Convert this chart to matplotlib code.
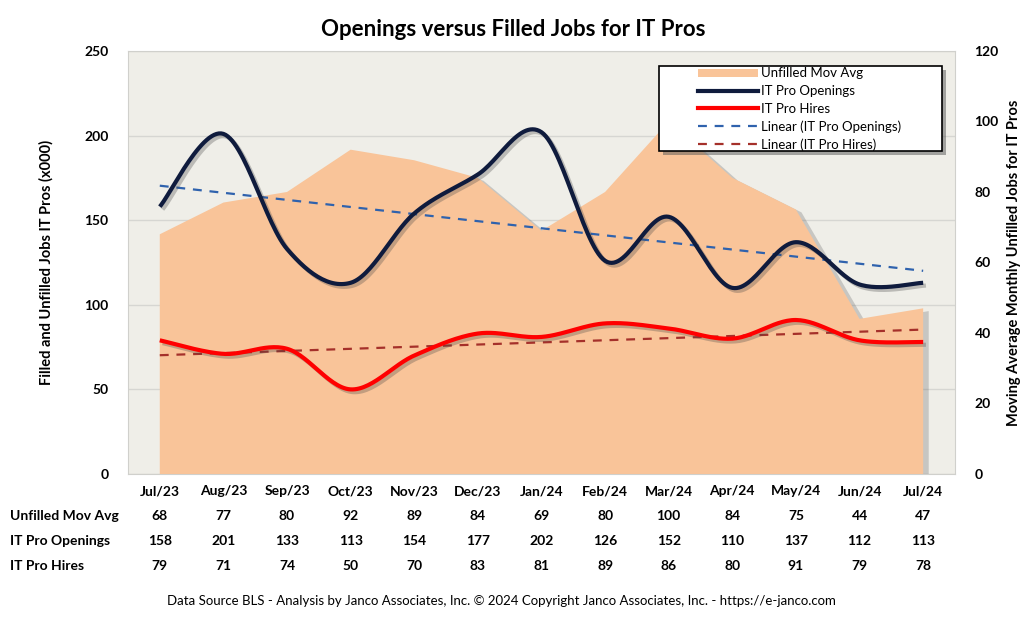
import matplotlib
matplotlib.use("Agg")
import matplotlib.pyplot as plt
import matplotlib.patheffects as pe
import matplotlib.transforms as mtransforms
from matplotlib.patches import Patch, Rectangle
from matplotlib.lines import Line2D
import numpy as np

months = ["Jul/23", "Aug/23", "Sep/23", "Oct/23", "Nov/23", "Dec/23", "Jan/24",
          "Feb/24", "Mar/24", "Apr/24", "May/24", "Jun/24", "Jul/24"]
unfilled = [68, 77, 80, 92, 89, 84, 69, 80, 100, 84, 75, 44, 47]
openings = [158, 201, 133, 113, 154, 177, 202, 126, 152, 110, 137, 112, 113]
hires = [79, 71, 74, 50, 70, 83, 81, 89, 86, 80, 91, 79, 78]

plt.rcParams['font.family'] = ['Lato', 'DejaVu Sans']
plt.rcParams['font.weight'] = 'bold'


def smooth(y, n=30):
    # excel-like smoothed line: bezier segments with catmull-rom control points
    y = np.asarray(y, float)
    x = np.arange(len(y), dtype=float)
    p = np.column_stack([x, y])
    pts = []
    for i in range(len(p) - 1):
        p0 = p[i - 1] if i > 0 else p[i]
        p3 = p[i + 2] if i + 2 < len(p) else p[i + 1]
        c1 = p[i] + (p[i + 1] - p0) / 6
        c2 = p[i + 1] - (p3 - p[i]) / 6
        t = np.linspace(0, 1, n)[:, None]
        seg = ((1 - t) ** 3 * p[i] + 3 * (1 - t) ** 2 * t * c1
               + 3 * (1 - t) * t ** 2 * c2 + t ** 3 * p[i + 1])
        pts.append(seg if i == 0 else seg[1:])
    pts = np.vstack(pts)
    return pts[:, 0], pts[:, 1]


x = np.arange(len(months))

fig = plt.figure(figsize=(10.23, 6.24), dpi=100)
fig.patch.set_facecolor("white")
ax = fig.add_axes([0.1251, 0.2404, 0.8084, 0.6779])
ax.set_facecolor("#efeee8")
ax.set_xlim(-0.5, len(months) - 0.5)
ax.set_ylim(0, 250)
ax.set_yticks(range(0, 251, 50))
ax.yaxis.grid(True, color="#d6d6d2", lw=1)
ax.set_axisbelow(True)
ax.set_xticks(x)
ax.set_xticklabels(months, fontsize=10)
ax.tick_params(length=0, labelsize=10, pad=8)
ax.tick_params(axis="y", pad=14)
for s in ax.spines.values():
    s.set_color("#d0d0cc")
ax.set_ylabel("Filled and Unfilled Jobs IT Pros (x000)", fontsize=10.5,
              fontweight="bold", labelpad=22)

# secondary axis holds the area
axr = ax.twinx()
axr.set_ylim(0, 120)
axr.set_yticks(range(0, 121, 20))
axr.tick_params(length=0, labelsize=10, pad=14)
for s in axr.spines.values():
    s.set_visible(False)
axr.set_ylabel("Moving Average Monthly Unfilled Jobs for IT Pros", fontsize=10.5,
               fontweight="bold", labelpad=6)
area = axr.fill_between(x, 0, unfilled, color="#f9c499", lw=0)
area.set_path_effects([pe.SimplePatchShadow(offset=(4, -2), shadow_rgbFace="#6b6b6b", alpha=0.3),
                       pe.Normal()])

# top axis for the lines, same scale as left
axl = ax.twinx()
axl.set_ylim(0, 250)
axl.set_yticks([])
for s in axl.spines.values():
    s.set_visible(False)

shadow = [pe.SimpleLineShadow(offset=(2, -2), shadow_color="#444444", alpha=0.3), pe.Normal()]
sx, sy = smooth(openings)
axl.plot(sx, sy, color="#0f1b3d", lw=3, solid_capstyle="butt", path_effects=shadow, zorder=4)
hx, hy = smooth(hires)
axl.plot(hx, hy, color="#ff0000", lw=3, solid_capstyle="butt", path_effects=shadow, zorder=4)

k1 = np.polyfit(x, openings, 1)
axl.plot(x, np.polyval(k1, x), color="#2f62ad", lw=1.6, ls=(0, (4, 3.5)), zorder=3)
k2 = np.polyfit(x, hires, 1)
axl.plot(x, np.polyval(k2, x), color="#a5302a", lw=1.6, ls=(0, (4, 3.5)), zorder=3)

# legend box drawn separately so it can be wider than its contents (excel style)
box = Rectangle((0.6425, 0.7636), 0.3415, 0.2009, transform=axl.transAxes,
                facecolor="white", edgecolor="black", lw=1.2, zorder=5)
box.set_path_effects([pe.SimplePatchShadow(offset=(3, -3), shadow_rgbFace="#555555", alpha=0.5),
                      pe.Normal()])
axl.add_patch(box)

handles = [Patch(facecolor="#f9c499", edgecolor="none"),
           Line2D([], [], color="#0f1b3d", lw=3),
           Line2D([], [], color="#ff0000", lw=3),
           Line2D([], [], color="#2f62ad", lw=1.6, ls=(0, (4, 3.5))),
           Line2D([], [], color="#a5302a", lw=1.6, ls=(0, (4, 3.5)))]
labels = ["Unfilled Mov Avg", "IT Pro Openings", "IT Pro Hires",
          "Linear (IT Pro Openings)", "Linear (IT Pro Hires)"]
leg = axl.legend(handles, labels, loc="upper left", bbox_to_anchor=(0.689, 0.961),
                 prop={"size": 9.5, "weight": "normal"}, frameon=False,
                 handlelength=4.6, handleheight=0.55, labelspacing=0.42,
                 borderpad=0.0, handletextpad=0.2, borderaxespad=0)
leg.set_zorder(6)

fig.text(0.502, 0.953, "Openings versus Filled Jobs for IT Pros", fontsize=16,
         fontweight="bold", ha="center", va="center")

# data table under the chart
trans = mtransforms.blended_transform_factory(ax.transData, fig.transFigure)
rows = [("Unfilled Mov Avg", unfilled), ("IT Pro Openings", openings), ("IT Pro Hires", hires)]
row_y = [0.173, 0.133, 0.093]
for (name, vals), yy in zip(rows, row_y):
    fig.text(0.01, yy, name, fontsize=10, va="center", ha="left")
    for xi, v in zip(x, vals):
        ax.text(xi, yy, str(v), transform=trans, fontsize=10, ha="center", va="center")

fig.text(0.49, 0.037, "Data Source BLS - Analysis by Janco Associates, Inc. \u00a9 2024 Copyright Janco Associates, Inc. - https://e-janco.com",
         fontsize=9.5, fontweight="normal", ha="center", va="center")

fig.savefig("out.png", dpi=100)
